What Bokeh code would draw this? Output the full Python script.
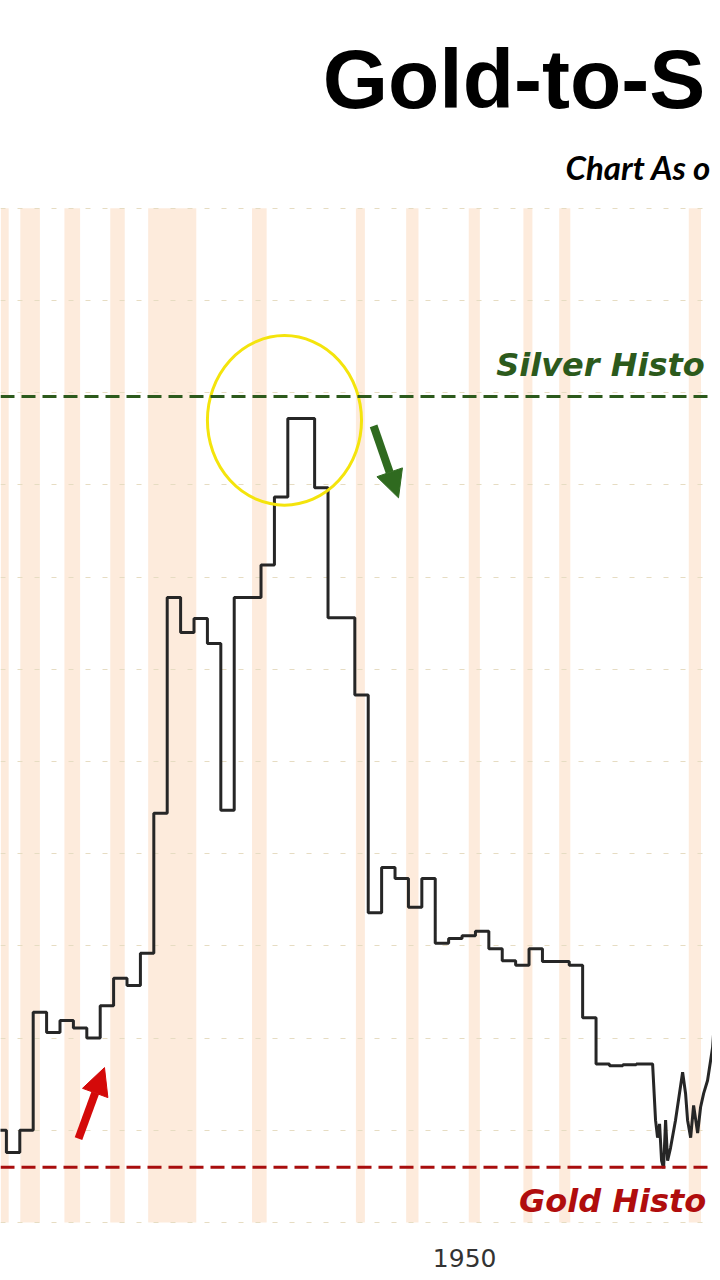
from bokeh.plotting import figure
from bokeh.models import Range1d, FixedTicker, Grid, Span, Arrow, NormalHead
from bokeh.core.properties import value
from bokeh.embed import file_html
from bokeh.resources import INLINE

# ---------------- data ----------------
years = list(range(1918, 1967))
ratio = [20.0, 17.6, 20.0, 32.8, 30.6, 31.9, 31.1, 30.0, 33.5, 36.5,
         35.7, 39.2, 54.4, 77.8, 74.0, 75.5, 72.8, 54.7, 77.8, 77.8,
         81.3, 88.7, 97.2, 97.2, 89.7, 75.6, 75.6, 67.2, 43.6, 48.5,
         47.3, 44.2, 47.3, 40.3, 40.8, 41.1, 41.6, 39.7, 38.4, 37.9,
         39.7, 38.3, 38.3, 37.9, 32.2, 27.2, 27.0, 27.1, 27.2]

late_years = [1967.22, 1967.44, 1967.59, 1967.74, 1967.89, 1968.04, 1968.19,
              1968.34, 1968.56, 1968.93, 1969.46, 1969.68, 1969.83, 1970.06,
              1970.28, 1970.58, 1970.80, 1971.03, 1971.32, 1971.70, 1971.85,
              1972.07, 1972.29, 1972.66]
late_ratio = [27.2, 21.1, 19.2, 20.7, 16.7, 15.9, 21.1, 16.7, 18.1, 21.1,
              26.3, 24.0, 21.1, 19.2, 22.7, 19.7, 22.5, 24.0, 25.4, 29.0,
              32.2, 32.7, 33.8, 38.4]

# US recessions (shaded)
rec_start = [1918.58, 1920.04, 1923.33, 1926.75, 1929.58, 1937.33, 1945.08,
             1948.83, 1953.50, 1957.58, 1960.25, 1969.92]
rec_end = [1919.17, 1921.50, 1924.50, 1927.83, 1933.17, 1938.42, 1945.75,
           1949.75, 1954.33, 1958.25, 1961.08, 1970.83]

silver_level = 99.6
gold_level = 16
grid_values = [10, 20, 30, 40, 50, 60, 70, 80, 90, 100, 110, 120]
tick_years = [1950]

# texts as visible in the (cropped) reference
title_text = "Gold-to-S"
subtitle_text = "Chart As o"
silver_text = "Silver Histo"
gold_text = "Gold Histo"

# ---------------- figure ----------------
W, H = 712, 1272
p = figure(width=W, height=H, output_backend="svg", toolbar_location=None,
           x_range=Range1d(1918.56, 1971.69), y_range=Range1d(4.577, 142.54),
           x_axis_location=None, y_axis_location=None,
           min_border_left=0, min_border_right=0,
           min_border_top=0, min_border_bottom=0,
           background_fill_color="white", border_fill_color="white",
           outline_line_color=None)

p.xgrid.visible = False
p.ygrid.visible = False
g = Grid(dimension=1, ticker=FixedTicker(ticks=grid_values),
         grid_line_color="#e6dcc2", grid_line_dash="5 12", grid_line_width=1.2,
         level="underlay")
p.add_layout(g)

# recession bands
p.quad(left=rec_start, right=rec_end, bottom=grid_values[0], top=grid_values[-1],
       fill_color="#fdebdc", line_color=None, level="image")

# main series (annual steps then finer late data)
xs, ys = [], []
for i, (yr, v) in enumerate(zip(years, ratio)):
    if i > 0:
        xs.append(yr)
        ys.append(ratio[i - 1])
    xs.append(yr)
    ys.append(v)
xs += late_years
ys += late_ratio
p.line(xs, ys, line_color="#262626", line_width=3)

# reference lines
p.add_layout(Span(location=silver_level, dimension="width", line_color="#2c5a1c",
                  line_width=3, line_dash="14 7"))
p.add_layout(Span(location=gold_level, dimension="width", line_color="#a80d0d",
                  line_width=3, line_dash="14 7"))

# labels
p.text(x=[1955.55], y=[silver_level + 3.4], text=[silver_text],
       text_font=value("DejaVu Sans"), text_font_size="32px",
       text_font_style="bold italic", text_color="#2c5a1c",
       text_baseline="alphabetic", text_align="left")
p.text(x=[1957.25], y=[gold_level - 3.7], text=[gold_text],
       text_font=value("DejaVu Sans"), text_font_size="32px",
       text_font_style="bold italic", text_color="#b00d0d",
       text_baseline="alphabetic", text_align="left")

# titles
p.text(x=[1942.60], y=[134.0], text=[title_text],
       text_font=value("Liberation Sans"), text_font_size="84px",
       text_font_style="bold", text_color="#000000",
       text_baseline="alphabetic", text_align="left")
p.text(x=[1960.72], y=[124.5], text=[subtitle_text],
       text_font=value("Lato"), text_font_size="33px",
       text_font_style="bold italic", text_color="#000000",
       text_baseline="alphabetic", text_align="left")

# x tick label (label sits just right of its year line)
p.text(x=tick_years, y=[6.15] * len(tick_years), text=[str(t) for t in tick_years],
       x_offset=11, text_font=value("DejaVu Sans"), text_font_size="25px",
       text_color="#333333", text_baseline="alphabetic", text_align="left")

# highlight peak
ipk = max(range(len(ratio)), key=lambda i: ratio[i])
p.ellipse(x=[years[ipk] - 0.25], y=[ratio[ipk] - 0.2], width=11.5, height=18.4,
          fill_color=None, line_color="#f4e40c", line_width=3)

# arrows
p.add_layout(Arrow(end=NormalHead(size=27, fill_color="#2f6a1f", line_color="#2f6a1f"),
                   x_start=1946.40, y_start=96.4, x_end=1948.26, y_end=88.6,
                   line_color="#2f6a1f", line_width=8))
p.add_layout(Arrow(end=NormalHead(size=27, fill_color="#d40a0a", line_color="#d40a0a"),
                   x_start=1924.38, y_start=19.1, x_end=1926.32, y_end=26.8,
                   line_color="#d40a0a", line_width=8))

open("out.html", "w").write(file_html(p, INLINE))
